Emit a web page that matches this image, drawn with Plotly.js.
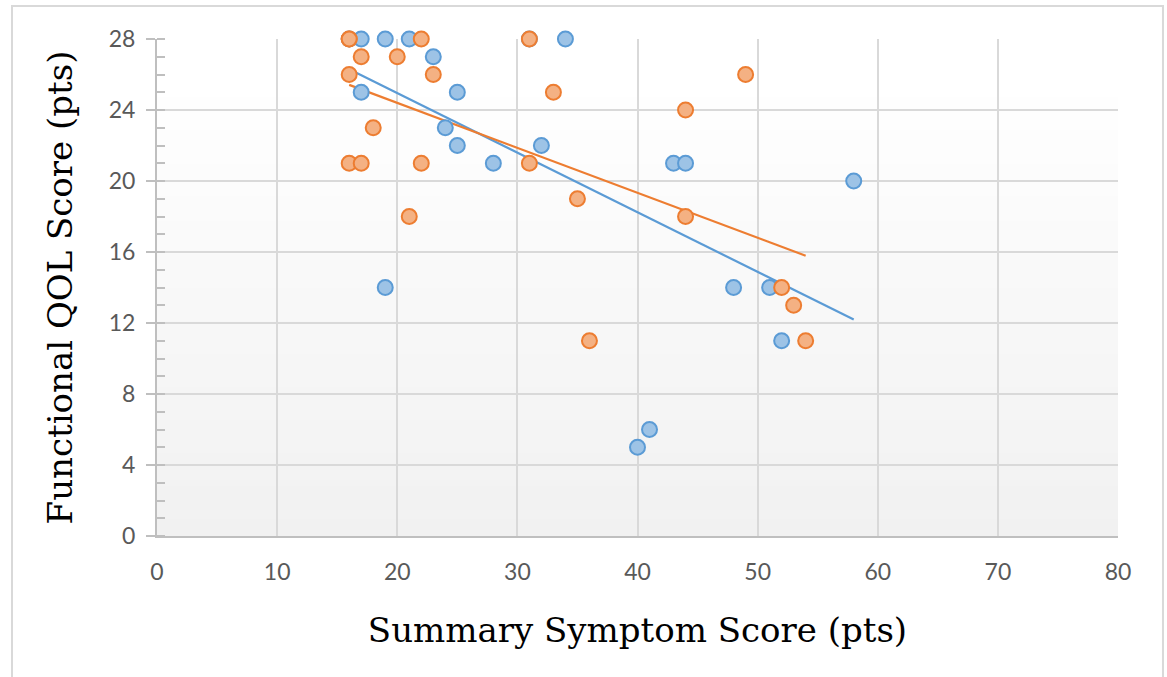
<!DOCTYPE html>
<html>
<head>
<meta charset="utf-8">
<script src="https://cdn.plot.ly/plotly-3.0.1.min.js"></script>
<style>
  html, body { margin: 0; padding: 0; background: #ffffff; }
  #chart { width: 1167px; height: 677px; }
</style>
</head>
<body>
<div id="chart"></div>
<script>
// Series 1 (blue) — includes points hidden beneath orange markers
const blueX = [16, 17, 19, 21, 31, 34, 23, 17, 25, 24, 25, 28, 32, 43, 44, 19, 58, 48, 51, 52, 40, 41];
const blueY = [28, 28, 28, 28, 28, 28, 27, 25, 25, 23, 22, 21, 22, 21, 21, 14, 20, 14, 14, 11, 5, 6];
// Series 2 (orange)
const orangeX = [16, 16, 22, 31, 17, 20, 16, 23, 33, 49, 18, 44, 16, 17, 22, 31, 21, 35, 44, 36, 52, 53, 54];
const orangeY = [28, 28, 28, 28, 27, 27, 26, 26, 25, 26, 23, 24, 21, 21, 21, 21, 18, 19, 18, 11, 14, 13, 11];

const xTickVals = [0, 10, 20, 30, 40, 50, 60, 70, 80];
const yTickVals = [0, 4, 8, 12, 16, 20, 24, 28];

const xTitle = 'Summary Symptom Score (pts)';
const yTitle = 'Functional QOL Score (pts)';

// Linear least-squares trendline (as Excel's linear trendline), spanning the data's x-range
function trend(xs, ys) {
  const n = xs.length;
  const mx = xs.reduce((a, b) => a + b, 0) / n;
  const my = ys.reduce((a, b) => a + b, 0) / n;
  let sxy = 0, sxx = 0;
  for (let i = 0; i < n; i++) { sxy += (xs[i] - mx) * (ys[i] - my); sxx += (xs[i] - mx) ** 2; }
  const b = sxy / sxx, a = my - b * mx;
  const x0 = Math.min(...xs), x1 = Math.max(...xs);
  return { x: [x0, x1], y: [a + b * x0, a + b * x1] };
}
const tb = trend(blueX, blueY);
const to = trend(orangeX, orangeY);

const BLUE = '#5b9bd5', BLUE_FILL = '#9dc3e6';
const ORANGE = '#ed7d31', ORANGE_FILL = '#f4b183';

const traces = [
  { x: tb.x, y: tb.y, mode: 'lines', line: { color: BLUE, width: 2.2 }, hoverinfo: 'skip', showlegend: false, cliponaxis: false },
  { x: to.x, y: to.y, mode: 'lines', line: { color: ORANGE, width: 2.2 }, hoverinfo: 'skip', showlegend: false, cliponaxis: false },
  { x: blueX, y: blueY, mode: 'markers', type: 'scatter', showlegend: false, cliponaxis: false,
    marker: { size: 15, color: BLUE_FILL, line: { color: BLUE, width: 2 } } },
  { x: orangeX, y: orangeY, mode: 'markers', type: 'scatter', showlegend: false, cliponaxis: false,
    marker: { size: 15, color: ORANGE_FILL, line: { color: ORANGE, width: 2 } } }
];

// Plot-area vertical gradient (white at top to light gray at bottom), drawn below gridlines
const shapes = [];
const N = 60;
for (let i = 0; i < N; i++) {
  const t = i / N; // 0 bottom -> 1 top
  const v = Math.round(241 + (255 - 241) * Math.min(1, t * 1.1));
  shapes.push({ type: 'rect', xref: 'x domain', yref: 'y domain', x0: 0, x1: 1,
    y0: i / N, y1: (i + 1) / N + 0.002, fillcolor: `rgb(${v},${v},${v})`, line: { width: 0 }, layer: 'below' });
}
// Outer chart frame
shapes.push({ type: 'rect', xref: 'paper', yref: 'paper',
  x0: -0.1509, x1: 1.0468, y0: -0.30, y1: 1.0664,
  line: { color: '#d9d9d9', width: 2 }, fillcolor: 'rgba(0,0,0,0)', layer: 'below' });

const layout = {
  width: 1167, height: 677,
  margin: { l: 157, r: 49, t: 39, b: 141 },
  paper_bgcolor: '#ffffff',
  plot_bgcolor: 'rgba(0,0,0,0)',
  showlegend: false,
  xaxis: {
    range: [0, 80], tickvals: xTickVals, ticks: '',
    showgrid: true, gridcolor: '#d9d9d9', gridwidth: 2,
    showline: true, linecolor: '#bfbfbf', linewidth: 2,
    zeroline: false,
    tickfont: { family: 'Lato, Carlito, sans-serif', size: 23, color: '#595959' },
    ticklabelstandoff: 14,
    title: { text: xTitle, font: { family: 'DejaVu Serif, serif', size: 34, color: '#000000' }, standoff: 35 }
  },
  yaxis: {
    range: [0, 28], tickvals: yTickVals, ticks: 'outside', ticklen: 9, tickwidth: 2, tickcolor: '#bfbfbf',
    showgrid: true, gridcolor: '#d9d9d9', gridwidth: 2,
    showline: true, linecolor: '#bfbfbf', linewidth: 2,
    zeroline: false,
    minor: { dtick: 1, ticks: 'inside', ticklen: 8, tickwidth: 2, tickcolor: '#bfbfbf', showgrid: false },
    tickfont: { family: 'Lato, Carlito, sans-serif', size: 23, color: '#595959' },
    ticklabelstandoff: 6,
    title: { text: yTitle, font: { family: 'DejaVu Serif, serif', size: 34, color: '#000000' }, standoff: 26 }
  },
  shapes: shapes
};

Plotly.newPlot('chart', traces, layout, { staticPlot: true, displayModeBar: false });
</script>
</body>
</html>
